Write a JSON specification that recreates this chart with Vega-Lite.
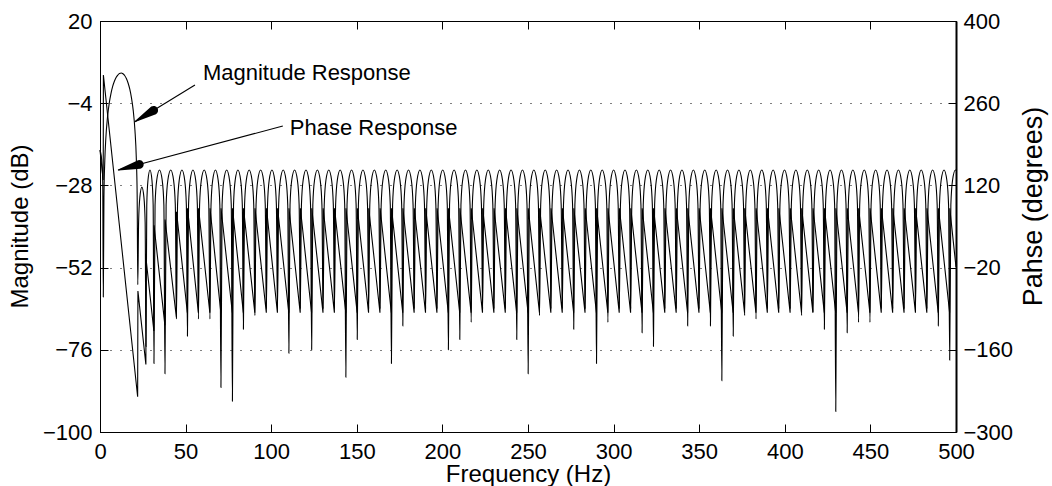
{
"$schema":"https://vega.github.io/schema/vega-lite/v6.json",
"width":856,"height":411,
"autosize":{"type":"none"},
"padding":{"left":100,"top":21,"right":96,"bottom":54},
"background":"white",
"config":{"view":{"stroke":"#000","strokeWidth":1},"font":"Liberation Sans"},
"datasets":{
"mag":[
{"f":0,"db":-17.7},{"f":0.6,"db":-19},{"f":1.2,"db":-22},{"f":1.6,"db":-27},{"f":1.93,"db":-60.6},{"f":2.3,"db":-31.6},{"f":2.8,"db":-20.8},{"f":3.4,"db":-14.3},{"f":4.4,"db":-8},{"f":5.4,"db":-4},{"f":6.4,"db":-1.2},{"f":7.4,"db":0.9},{"f":8.4,"db":2.4},{"f":9.4,"db":3.5},{"f":10.4,"db":4.2},{"f":11.4,"db":4.7},{"f":12.4,"db":4.8},{"f":13.4,"db":4.6},{"f":14.4,"db":4.1},{"f":15.4,"db":3.2},{"f":16.4,"db":1.9},{"f":17.4,"db":0.1},{"f":18.4,"db":-2.5},{"f":19.4,"db":-6.1},{"f":20.4,"db":-11.8},{"f":21.2,"db":-19.9},{"f":21.7,"db":-30.6},{"f":22.07,"db":-57},
{"f":22.55,"db":-38.7},{"f":23.27,"db":-31.5},{"f":24.46,"db":-28.5},{"f":25.66,"db":-31.5},{"f":26.37,"db":-38.7},{"f":26.85,"db":-75},
{"f":27.32,"db":-33.7},{"f":28.02,"db":-26.5},{"f":29.19,"db":-23.5},{"f":30.35,"db":-26.5},{"f":31.05,"db":-33.7},{"f":31.52,"db":-80},
{"f":32.16,"db":-33.7},{"f":33.13,"db":-26.5},{"f":34.74,"db":-23.5},{"f":36.34,"db":-26.5},{"f":37.31,"db":-33.7},{"f":37.95,"db":-83},
{"f":38.62,"db":-33.7},{"f":39.63,"db":-26.5},{"f":41.31,"db":-23.5},{"f":42.98,"db":-26.5},{"f":43.99,"db":-33.7},{"f":44.66,"db":-67},
{"f":45.30,"db":-33.7},{"f":46.27,"db":-26.5},{"f":47.87,"db":-23.5},{"f":49.48,"db":-26.5},{"f":50.44,"db":-33.7},{"f":51.08,"db":-72},
{"f":51.72,"db":-33.7},{"f":52.69,"db":-26.5},{"f":54.29,"db":-23.5},{"f":55.90,"db":-26.5},{"f":56.86,"db":-33.7},{"f":57.50,"db":-67},
{"f":58.17,"db":-33.7},{"f":59.18,"db":-26.5},{"f":60.86,"db":-23.5},{"f":62.53,"db":-26.5},{"f":63.54,"db":-33.7},{"f":64.21,"db":-67},
{"f":64.85,"db":-33.7},{"f":65.82,"db":-26.5},{"f":67.43,"db":-23.5},{"f":69.03,"db":-26.5},{"f":70.00,"db":-33.7},{"f":70.64,"db":-87},
{"f":71.31,"db":-33.7},{"f":72.32,"db":-26.5},{"f":74.00,"db":-23.5},{"f":75.67,"db":-26.5},{"f":76.68,"db":-33.7},{"f":77.35,"db":-91},
{"f":77.99,"db":-33.7},{"f":78.96,"db":-26.5},{"f":80.56,"db":-23.5},{"f":82.17,"db":-26.5},{"f":83.13,"db":-33.7},{"f":83.77,"db":-70},
{"f":84.44,"db":-33.7},{"f":85.45,"db":-26.5},{"f":87.13,"db":-23.5},{"f":88.80,"db":-26.5},{"f":89.81,"db":-33.7},{"f":90.48,"db":-66},
{"f":91.15,"db":-33.7},{"f":92.16,"db":-26.5},{"f":93.84,"db":-23.5},{"f":95.52,"db":-26.5},{"f":96.53,"db":-33.7},{"f":97.20,"db":-64},
{"f":97.85,"db":-33.7},{"f":98.82,"db":-26.5},{"f":100.44,"db":-23.5},{"f":102.06,"db":-26.5},{"f":103.03,"db":-33.7},{"f":103.68,"db":-64},
{"f":104.35,"db":-33.7},{"f":105.34,"db":-26.5},{"f":107.01,"db":-23.5},{"f":108.67,"db":-26.5},{"f":109.67,"db":-33.7},{"f":110.33,"db":-77},
{"f":111.00,"db":-33.7},{"f":111.99,"db":-26.5},{"f":113.66,"db":-23.5},{"f":115.32,"db":-26.5},{"f":116.32,"db":-33.7},{"f":116.99,"db":-64},
{"f":117.66,"db":-33.7},{"f":118.65,"db":-26.5},{"f":120.32,"db":-23.5},{"f":121.98,"db":-26.5},{"f":122.98,"db":-33.7},{"f":123.64,"db":-76},
{"f":124.31,"db":-33.7},{"f":125.30,"db":-26.5},{"f":126.97,"db":-23.5},{"f":128.63,"db":-26.5},{"f":129.63,"db":-33.7},{"f":130.30,"db":-64},
{"f":130.97,"db":-33.7},{"f":131.96,"db":-26.5},{"f":133.63,"db":-23.5},{"f":135.29,"db":-26.5},{"f":136.29,"db":-33.7},{"f":136.95,"db":-64},
{"f":137.62,"db":-33.7},{"f":138.61,"db":-26.5},{"f":140.28,"db":-23.5},{"f":141.94,"db":-26.5},{"f":142.94,"db":-33.7},{"f":143.61,"db":-84},
{"f":144.28,"db":-33.7},{"f":145.27,"db":-26.5},{"f":146.94,"db":-23.5},{"f":148.60,"db":-26.5},{"f":149.60,"db":-33.7},{"f":150.26,"db":-73},
{"f":150.93,"db":-33.7},{"f":151.92,"db":-26.5},{"f":153.59,"db":-23.5},{"f":155.25,"db":-26.5},{"f":156.25,"db":-33.7},{"f":156.92,"db":-64},
{"f":157.59,"db":-33.7},{"f":158.58,"db":-26.5},{"f":160.25,"db":-23.5},{"f":161.91,"db":-26.5},{"f":162.91,"db":-33.7},{"f":163.57,"db":-64},
{"f":164.24,"db":-33.7},{"f":165.23,"db":-26.5},{"f":166.90,"db":-23.5},{"f":168.56,"db":-26.5},{"f":169.56,"db":-33.7},{"f":170.23,"db":-80},
{"f":170.90,"db":-33.7},{"f":171.89,"db":-26.5},{"f":173.56,"db":-23.5},{"f":175.22,"db":-26.5},{"f":176.22,"db":-33.7},{"f":176.88,"db":-69},
{"f":177.55,"db":-33.7},{"f":178.54,"db":-26.5},{"f":180.21,"db":-23.5},{"f":181.87,"db":-26.5},{"f":182.87,"db":-33.7},{"f":183.54,"db":-64},
{"f":184.21,"db":-33.7},{"f":185.20,"db":-26.5},{"f":186.87,"db":-23.5},{"f":188.53,"db":-26.5},{"f":189.53,"db":-33.7},{"f":190.19,"db":-64},
{"f":190.86,"db":-33.7},{"f":191.85,"db":-26.5},{"f":193.52,"db":-23.5},{"f":195.18,"db":-26.5},{"f":196.18,"db":-33.7},{"f":196.85,"db":-64},
{"f":197.52,"db":-33.7},{"f":198.51,"db":-26.5},{"f":200.18,"db":-23.5},{"f":201.84,"db":-26.5},{"f":202.84,"db":-33.7},{"f":203.50,"db":-76},
{"f":204.17,"db":-33.7},{"f":205.16,"db":-26.5},{"f":206.83,"db":-23.5},{"f":208.49,"db":-26.5},{"f":209.49,"db":-33.7},{"f":210.16,"db":-73},
{"f":210.83,"db":-33.7},{"f":211.82,"db":-26.5},{"f":213.49,"db":-23.5},{"f":215.15,"db":-26.5},{"f":216.15,"db":-33.7},{"f":216.81,"db":-68},
{"f":217.48,"db":-33.7},{"f":218.47,"db":-26.5},{"f":220.14,"db":-23.5},{"f":221.80,"db":-26.5},{"f":222.80,"db":-33.7},{"f":223.47,"db":-64},
{"f":224.14,"db":-33.7},{"f":225.13,"db":-26.5},{"f":226.80,"db":-23.5},{"f":228.46,"db":-26.5},{"f":229.46,"db":-33.7},{"f":230.12,"db":-64},
{"f":230.79,"db":-33.7},{"f":231.78,"db":-26.5},{"f":233.45,"db":-23.5},{"f":235.11,"db":-26.5},{"f":236.11,"db":-33.7},{"f":236.78,"db":-64},
{"f":237.45,"db":-33.7},{"f":238.44,"db":-26.5},{"f":240.11,"db":-23.5},{"f":241.77,"db":-26.5},{"f":242.77,"db":-33.7},{"f":243.43,"db":-73},
{"f":244.10,"db":-33.7},{"f":245.09,"db":-26.5},{"f":246.76,"db":-23.5},{"f":248.42,"db":-26.5},{"f":249.42,"db":-33.7},{"f":250.09,"db":-83},
{"f":250.76,"db":-33.7},{"f":251.75,"db":-26.5},{"f":253.42,"db":-23.5},{"f":255.08,"db":-26.5},{"f":256.08,"db":-33.7},{"f":256.74,"db":-66},
{"f":257.41,"db":-33.7},{"f":258.40,"db":-26.5},{"f":260.07,"db":-23.5},{"f":261.73,"db":-26.5},{"f":262.73,"db":-33.7},{"f":263.40,"db":-64},
{"f":264.07,"db":-33.7},{"f":265.06,"db":-26.5},{"f":266.73,"db":-23.5},{"f":268.39,"db":-26.5},{"f":269.39,"db":-33.7},{"f":270.05,"db":-64},
{"f":270.72,"db":-33.7},{"f":271.71,"db":-26.5},{"f":273.38,"db":-23.5},{"f":275.04,"db":-26.5},{"f":276.04,"db":-33.7},{"f":276.71,"db":-70},
{"f":277.38,"db":-33.7},{"f":278.37,"db":-26.5},{"f":280.04,"db":-23.5},{"f":281.70,"db":-26.5},{"f":282.70,"db":-33.7},{"f":283.36,"db":-64},
{"f":284.03,"db":-33.7},{"f":285.02,"db":-26.5},{"f":286.69,"db":-23.5},{"f":288.35,"db":-26.5},{"f":289.35,"db":-33.7},{"f":290.02,"db":-80},
{"f":290.69,"db":-33.7},{"f":291.68,"db":-26.5},{"f":293.35,"db":-23.5},{"f":295.01,"db":-26.5},{"f":296.01,"db":-33.7},{"f":296.67,"db":-68},
{"f":297.34,"db":-33.7},{"f":298.33,"db":-26.5},{"f":300.00,"db":-23.5},{"f":301.66,"db":-26.5},{"f":302.66,"db":-33.7},{"f":303.33,"db":-64},
{"f":304.00,"db":-33.7},{"f":304.99,"db":-26.5},{"f":306.66,"db":-23.5},{"f":308.32,"db":-26.5},{"f":309.32,"db":-33.7},{"f":309.98,"db":-64},
{"f":310.65,"db":-33.7},{"f":311.64,"db":-26.5},{"f":313.31,"db":-23.5},{"f":314.97,"db":-26.5},{"f":315.97,"db":-33.7},{"f":316.64,"db":-71},
{"f":317.31,"db":-33.7},{"f":318.30,"db":-26.5},{"f":319.97,"db":-23.5},{"f":321.63,"db":-26.5},{"f":322.63,"db":-33.7},{"f":323.29,"db":-75},
{"f":323.96,"db":-33.7},{"f":324.95,"db":-26.5},{"f":326.62,"db":-23.5},{"f":328.28,"db":-26.5},{"f":329.28,"db":-33.7},{"f":329.95,"db":-64},
{"f":330.62,"db":-33.7},{"f":331.61,"db":-26.5},{"f":333.28,"db":-23.5},{"f":334.94,"db":-26.5},{"f":335.94,"db":-33.7},{"f":336.60,"db":-64},
{"f":337.27,"db":-33.7},{"f":338.26,"db":-26.5},{"f":339.93,"db":-23.5},{"f":341.59,"db":-26.5},{"f":342.59,"db":-33.7},{"f":343.26,"db":-69},
{"f":343.93,"db":-33.7},{"f":344.92,"db":-26.5},{"f":346.59,"db":-23.5},{"f":348.25,"db":-26.5},{"f":349.25,"db":-33.7},{"f":349.91,"db":-64},
{"f":350.58,"db":-33.7},{"f":351.57,"db":-26.5},{"f":353.24,"db":-23.5},{"f":354.90,"db":-26.5},{"f":355.90,"db":-33.7},{"f":356.57,"db":-69},
{"f":357.24,"db":-33.7},{"f":358.23,"db":-26.5},{"f":359.90,"db":-23.5},{"f":361.56,"db":-26.5},{"f":362.56,"db":-33.7},{"f":363.22,"db":-85},
{"f":363.89,"db":-33.7},{"f":364.88,"db":-26.5},{"f":366.55,"db":-23.5},{"f":368.21,"db":-26.5},{"f":369.21,"db":-33.7},{"f":369.88,"db":-72},
{"f":370.55,"db":-33.7},{"f":371.54,"db":-26.5},{"f":373.21,"db":-23.5},{"f":374.87,"db":-26.5},{"f":375.87,"db":-33.7},{"f":376.53,"db":-66},
{"f":377.20,"db":-33.7},{"f":378.19,"db":-26.5},{"f":379.86,"db":-23.5},{"f":381.52,"db":-26.5},{"f":382.52,"db":-33.7},{"f":383.19,"db":-67},
{"f":383.86,"db":-33.7},{"f":384.85,"db":-26.5},{"f":386.52,"db":-23.5},{"f":388.18,"db":-26.5},{"f":389.18,"db":-33.7},{"f":389.84,"db":-64},
{"f":390.51,"db":-33.7},{"f":391.50,"db":-26.5},{"f":393.17,"db":-23.5},{"f":394.83,"db":-26.5},{"f":395.83,"db":-33.7},{"f":396.50,"db":-64},
{"f":397.17,"db":-33.7},{"f":398.16,"db":-26.5},{"f":399.83,"db":-23.5},{"f":401.49,"db":-26.5},{"f":402.49,"db":-33.7},{"f":403.15,"db":-64},
{"f":403.82,"db":-33.7},{"f":404.81,"db":-26.5},{"f":406.48,"db":-23.5},{"f":408.14,"db":-26.5},{"f":409.14,"db":-33.7},{"f":409.81,"db":-66},
{"f":410.48,"db":-33.7},{"f":411.47,"db":-26.5},{"f":413.14,"db":-23.5},{"f":414.80,"db":-26.5},{"f":415.80,"db":-33.7},{"f":416.46,"db":-65},
{"f":417.13,"db":-33.7},{"f":418.12,"db":-26.5},{"f":419.79,"db":-23.5},{"f":421.45,"db":-26.5},{"f":422.45,"db":-33.7},{"f":423.12,"db":-70},
{"f":423.79,"db":-33.7},{"f":424.78,"db":-26.5},{"f":426.45,"db":-23.5},{"f":428.11,"db":-26.5},{"f":429.11,"db":-33.7},{"f":429.77,"db":-94},
{"f":430.44,"db":-33.7},{"f":431.43,"db":-26.5},{"f":433.10,"db":-23.5},{"f":434.76,"db":-26.5},{"f":435.76,"db":-33.7},{"f":436.43,"db":-71},
{"f":437.10,"db":-33.7},{"f":438.09,"db":-26.5},{"f":439.76,"db":-23.5},{"f":441.42,"db":-26.5},{"f":442.42,"db":-33.7},{"f":443.08,"db":-68},
{"f":443.75,"db":-33.7},{"f":444.74,"db":-26.5},{"f":446.41,"db":-23.5},{"f":448.07,"db":-26.5},{"f":449.07,"db":-33.7},{"f":449.74,"db":-68},
{"f":450.41,"db":-33.7},{"f":451.40,"db":-26.5},{"f":453.07,"db":-23.5},{"f":454.73,"db":-26.5},{"f":455.73,"db":-33.7},{"f":456.39,"db":-64},
{"f":457.06,"db":-33.7},{"f":458.05,"db":-26.5},{"f":459.72,"db":-23.5},{"f":461.38,"db":-26.5},{"f":462.38,"db":-33.7},{"f":463.05,"db":-64},
{"f":463.72,"db":-33.7},{"f":464.71,"db":-26.5},{"f":466.38,"db":-23.5},{"f":468.04,"db":-26.5},{"f":469.04,"db":-33.7},{"f":469.70,"db":-64},
{"f":470.37,"db":-33.7},{"f":471.36,"db":-26.5},{"f":473.03,"db":-23.5},{"f":474.69,"db":-26.5},{"f":475.69,"db":-33.7},{"f":476.36,"db":-64},
{"f":477.03,"db":-33.7},{"f":478.02,"db":-26.5},{"f":479.69,"db":-23.5},{"f":481.35,"db":-26.5},{"f":482.35,"db":-33.7},{"f":483.01,"db":-64},
{"f":483.68,"db":-33.7},{"f":484.67,"db":-26.5},{"f":486.34,"db":-23.5},{"f":488.00,"db":-26.5},{"f":489.00,"db":-33.7},{"f":489.67,"db":-69},
{"f":490.34,"db":-33.7},{"f":491.33,"db":-26.5},{"f":493.00,"db":-23.5},{"f":494.66,"db":-26.5},{"f":495.66,"db":-33.7},{"f":496.32,"db":-79},
{"f":496.99,"db":-33.7},{"f":497.98,"db":-26.5},{"f":499.65,"db":-23.5},{"f":500,"db":-23.6}
],
"phase":[
{"f":0,"deg":180},{"f":1.88,"deg":129},{"f":1.98,"deg":308},{"f":21.99,"deg":-240},{"f":22.15,"deg":-60},{"f":26.8,"deg":-185},{"f":26.9,"deg":-5},{"f":31.47,"deg":-128},{"f":31.57,"deg":52},{"f":37.9,"deg":-118},{"f":38.0,"deg":62},{"f":44.61,"deg":-105},{"f":44.71,"deg":75},{"f":51.03,"deg":-97},{"f":51.13,"deg":81},
{"f":57.45,"deg":-97},{"f":57.55,"deg":81},{"f":64.16,"deg":-97},{"f":64.26,"deg":81},{"f":70.59,"deg":-97},{"f":70.69,"deg":81},{"f":77.30,"deg":-97},{"f":77.40,"deg":81},{"f":83.72,"deg":-97},{"f":83.82,"deg":81},{"f":90.43,"deg":-97},{"f":90.53,"deg":81},{"f":97.15,"deg":-97},{"f":97.25,"deg":81},{"f":103.63,"deg":-97},{"f":103.73,"deg":81},
{"f":110.28,"deg":-97},{"f":110.38,"deg":81},{"f":116.94,"deg":-97},{"f":117.04,"deg":81},{"f":123.59,"deg":-97},{"f":123.69,"deg":81},{"f":130.25,"deg":-97},{"f":130.35,"deg":81},{"f":136.90,"deg":-97},{"f":137.00,"deg":81},{"f":143.56,"deg":-97},{"f":143.66,"deg":81},{"f":150.21,"deg":-97},{"f":150.31,"deg":81},{"f":156.87,"deg":-97},{"f":156.97,"deg":81},{"f":163.52,"deg":-97},{"f":163.62,"deg":81},{"f":170.18,"deg":-97},{"f":170.28,"deg":81},{"f":176.83,"deg":-97},{"f":176.93,"deg":81},{"f":183.49,"deg":-97},{"f":183.59,"deg":81},{"f":190.14,"deg":-97},{"f":190.24,"deg":81},{"f":196.80,"deg":-97},{"f":196.90,"deg":81},{"f":203.45,"deg":-97},{"f":203.55,"deg":81},{"f":210.11,"deg":-97},{"f":210.21,"deg":81},{"f":216.76,"deg":-97},{"f":216.86,"deg":81},{"f":223.42,"deg":-97},{"f":223.52,"deg":81},{"f":230.07,"deg":-97},{"f":230.17,"deg":81},{"f":236.73,"deg":-97},{"f":236.83,"deg":81},{"f":243.38,"deg":-97},{"f":243.48,"deg":81},{"f":250.04,"deg":-97},{"f":250.14,"deg":81},{"f":256.69,"deg":-97},{"f":256.79,"deg":81},{"f":263.35,"deg":-97},{"f":263.45,"deg":81},{"f":270.00,"deg":-97},{"f":270.10,"deg":81},{"f":276.66,"deg":-97},{"f":276.76,"deg":81},{"f":283.31,"deg":-97},{"f":283.41,"deg":81},{"f":289.97,"deg":-97},{"f":290.07,"deg":81},{"f":296.62,"deg":-97},{"f":296.72,"deg":81},{"f":303.28,"deg":-97},{"f":303.38,"deg":81},{"f":309.93,"deg":-97},{"f":310.03,"deg":81},{"f":316.59,"deg":-97},{"f":316.69,"deg":81},{"f":323.24,"deg":-97},{"f":323.34,"deg":81},{"f":329.90,"deg":-97},{"f":330.00,"deg":81},{"f":336.55,"deg":-97},{"f":336.65,"deg":81},{"f":343.21,"deg":-97},{"f":343.31,"deg":81},{"f":349.86,"deg":-97},{"f":349.96,"deg":81},{"f":356.52,"deg":-97},{"f":356.62,"deg":81},{"f":363.17,"deg":-97},{"f":363.27,"deg":81},{"f":369.83,"deg":-97},{"f":369.93,"deg":81},{"f":376.48,"deg":-97},{"f":376.58,"deg":81},{"f":383.14,"deg":-97},{"f":383.24,"deg":81},{"f":389.79,"deg":-97},{"f":389.89,"deg":81},{"f":396.45,"deg":-97},{"f":396.55,"deg":81},{"f":403.10,"deg":-97},{"f":403.20,"deg":81},{"f":409.76,"deg":-97},{"f":409.86,"deg":81},{"f":416.41,"deg":-97},{"f":416.51,"deg":81},{"f":423.07,"deg":-97},{"f":423.17,"deg":81},{"f":429.72,"deg":-97},{"f":429.82,"deg":81},{"f":436.38,"deg":-97},{"f":436.48,"deg":81},{"f":443.03,"deg":-97},{"f":443.13,"deg":81},{"f":449.69,"deg":-97},{"f":449.79,"deg":81},{"f":456.34,"deg":-97},{"f":456.44,"deg":81},{"f":463.00,"deg":-97},{"f":463.10,"deg":81},{"f":469.65,"deg":-97},{"f":469.75,"deg":81},{"f":476.31,"deg":-97},{"f":476.41,"deg":81},{"f":482.96,"deg":-97},{"f":483.06,"deg":81},{"f":489.62,"deg":-97},{"f":489.72,"deg":81},{"f":496.27,"deg":-97},{"f":496.37,"deg":81},{"f":500,"deg":-19}
],
"arrows":[{"f0":55.46,"v0":1.31,"f1":20.43,"v1":-9.4},{"f0":106.8,"v0":-10.66,"f1":10.68,"v1":-23.5}],
"heads":[{"id":"mag","f":31.3,"db":-6.1,"end":1},{"id":"mag","f":20.43,"db":-9.4,"end":0},{"id":"phase","f":22.9,"db":-21.9,"end":1},{"id":"phase","f":10.68,"db":-23.5,"end":0}],
"notes":[{"f":60.1,"db":4.8,"label":"Magnitude Response"},{"f":110.9,"db":-11.2,"label":"Phase Response"}]
},
"layer":[
{"data":{"name":"mag"},"mark":{"type":"line","color":"#000","strokeWidth":1.1,"interpolate":"monotone"},
"encoding":{
"x":{"field":"f","type":"quantitative","scale":{"domain":[0,500],"nice":false,"zero":false},
"axis":{"orient":"bottom","values":[0,50,100,150,200,250,300,350,400,450,500],"grid":false,"tickSize":-8,"tickColor":"#000","domainColor":"#000","labelPadding":17,"labelFontSize":22,"labelColor":"#000","labelFont":"Liberation Sans","labelFlush":false,"labelOverlap":false,"title":"Frequency (Hz)","titleFontSize":24,"titleFontWeight":"normal","titleColor":"#000","titleFont":"Liberation Sans","titleY":49,"titleBaseline":"alphabetic"}},
"y":{"field":"db","type":"quantitative","scale":{"domain":[-100,20],"nice":false,"zero":false},
"axis":{"orient":"left","values":[-100,-76,-52,-28,-4,20],"grid":true,"gridDash":[1,9],"gridColor":"#000","gridOpacity":1,"gridWidth":1,"tickSize":-8,"tickColor":"#000","domainColor":"#000","labelPadding":16,"labelFontSize":22,"labelColor":"#000","labelFont":"Liberation Sans","labelOverlap":false,"title":"Magnitude (dB)","titleFontSize":24,"titleFontWeight":"normal","titleColor":"#000","titleFont":"Liberation Sans","titleAngle":270,"titleX":-73,"titleY":205,"titleBaseline":"alphabetic","titleAlign":"center"}}}},
{"data":{"name":"phase"},"mark":{"type":"line","color":"#000","strokeWidth":1.1},
"encoding":{
"x":{"field":"f","type":"quantitative","scale":{"domain":[0,500],"nice":false,"zero":false},
"axis":{"orient":"top","values":[0,50,100,150,200,250,300,350,400,450,500],"labels":false,"grid":false,"tickSize":-8,"tickColor":"#000","domainColor":"#000","title":null}},
"y":{"field":"deg","type":"quantitative","scale":{"domain":[-300,400],"nice":false,"zero":false},
"axis":{"orient":"right","values":[-300,-160,-20,120,260,400],"grid":false,"tickSize":-8,"tickColor":"#000","domainColor":"#000","domainWidth":2,"labelPadding":15,"labelFontSize":22,"labelColor":"#000","labelFont":"Liberation Sans","labelOverlap":false,"title":"Pahse (degrees)","titleFontSize":27,"titleFontWeight":"normal","titleColor":"#000","titleFont":"Liberation Sans","titleAngle":270,"titleX":85,"titleY":185,"titleBaseline":"alphabetic","titleAlign":"center"}}}},
{"data":{"name":"arrows"},"mark":{"type":"rule","color":"#000","strokeWidth":1.1},
"encoding":{"x":{"field":"f0","type":"quantitative","scale":{"domain":[0,500],"nice":false,"zero":false},"axis":null},"x2":{"field":"f1"},
"y":{"field":"v0","type":"quantitative","scale":{"domain":[-100,20],"nice":false,"zero":false},"axis":null},"y2":{"field":"v1"}}},
{"data":{"name":"heads"},"mark":{"type":"trail","color":"#000","opacity":1},
"encoding":{"x":{"field":"f","type":"quantitative","scale":{"domain":[0,500],"nice":false,"zero":false},"axis":null},"y":{"field":"db","type":"quantitative","scale":{"domain":[-100,20],"nice":false,"zero":false},"axis":null},
"size":{"field":"end","type":"quantitative","scale":{"domain":[0,1],"range":[0,9],"zero":true},"legend":null},"detail":{"field":"id"}}},
{"data":{"name":"notes"},"mark":{"type":"text","align":"left","baseline":"middle","fontSize":22,"font":"Liberation Sans","color":"#000"},
"encoding":{"x":{"field":"f","type":"quantitative","scale":{"domain":[0,500],"nice":false,"zero":false},"axis":null},"y":{"field":"db","type":"quantitative","scale":{"domain":[-100,20],"nice":false,"zero":false},"axis":null},"text":{"field":"label"}}}
],
"resolve":{"scale":{"x":"independent","y":"independent"}}
}
